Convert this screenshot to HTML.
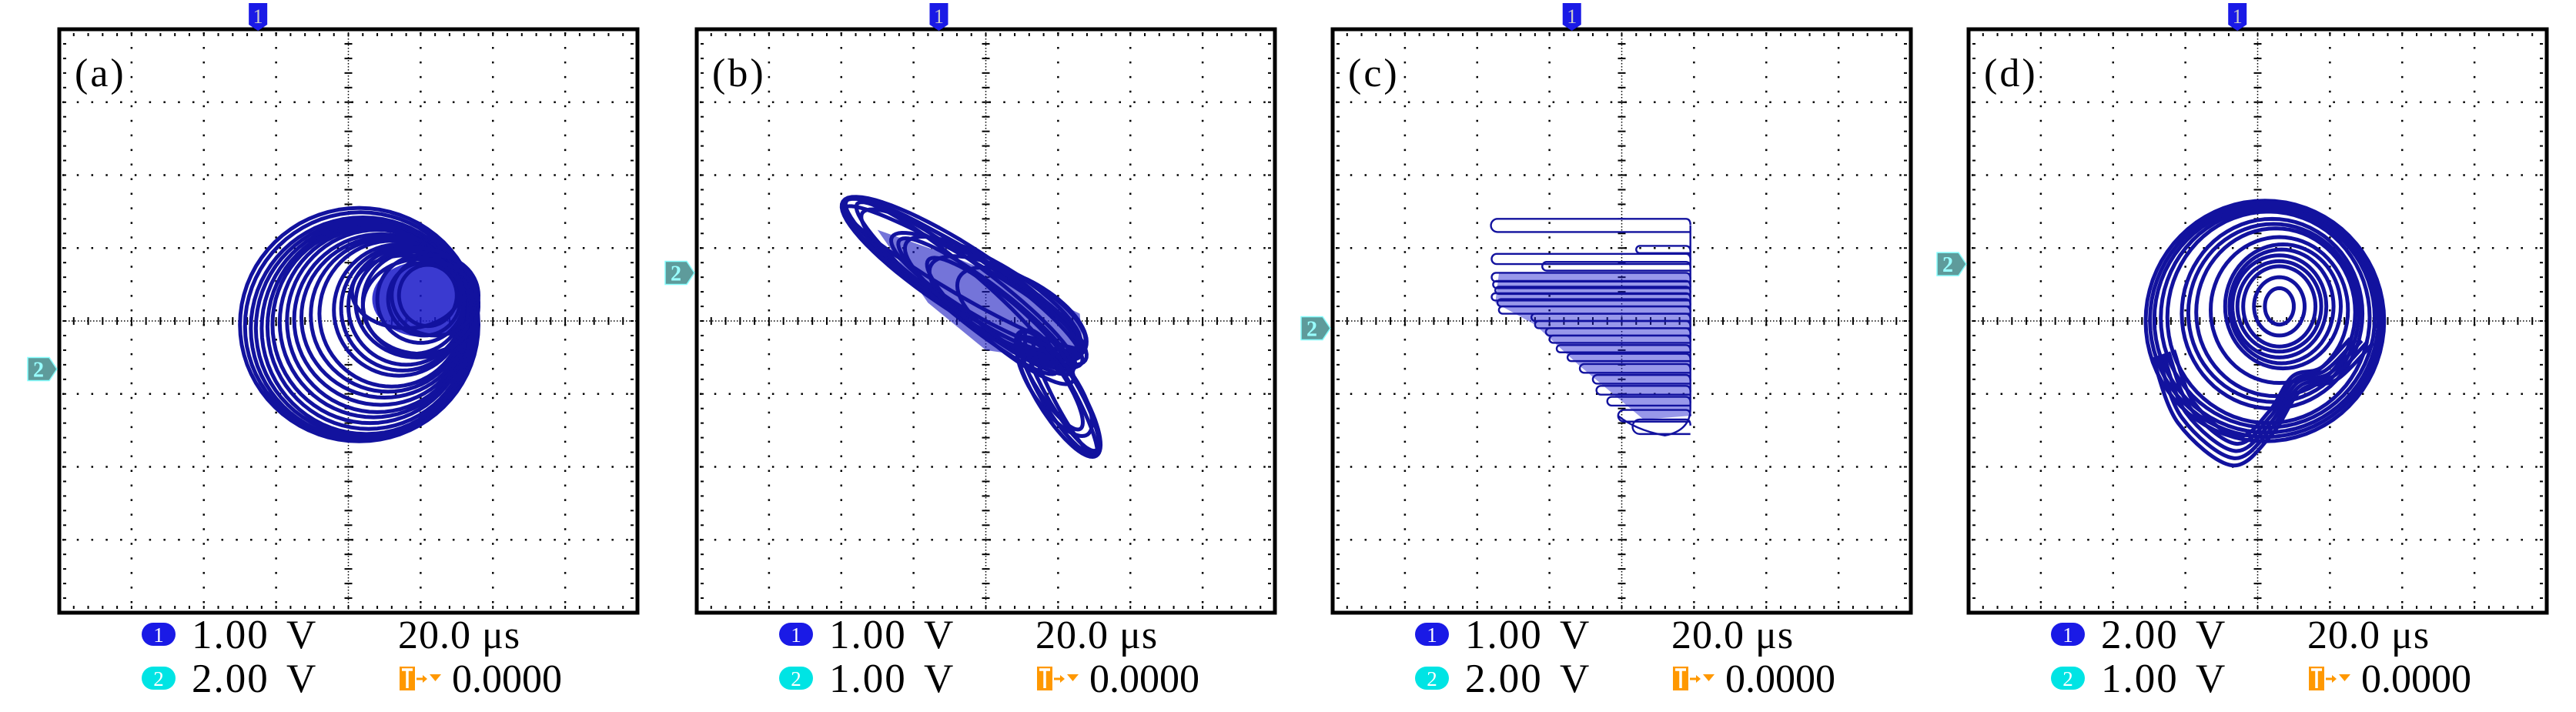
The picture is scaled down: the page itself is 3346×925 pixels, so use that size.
<!DOCTYPE html>
<html><head><meta charset="utf-8">
<style>
html,body{margin:0;padding:0;background:#fff;}
svg{display:block;}
text{font-family:"Liberation Serif",serif;}
</style></head>
<body>
<svg id="fig" width="3346" height="925" viewBox="0 0 3346 925" xmlns="http://www.w3.org/2000/svg"></svg>
<script>
// ---- data (in scope divisions, origin at screen centre) ----
const panelLabels = ["(a)", "(b)", "(c)", "(d)"];
const ch1Scale = ["1.00 V", "1.00 V", "1.00 V", "2.00 V"];
const ch2Scale = ["2.00 V", "1.00 V", "2.00 V", "1.00 V"];
const timeBase = ["20.0 μs", "20.0 μs", "20.0 μs", "20.0 μs"];
const trigLevel = ["0.0000", "0.0000", "0.0000", "0.0000"];
const ch1MarkerX = [-1.25, -0.65, -0.69, -0.28];
const ch2MarkerY = [-0.66, 0.66, -0.1, 0.78];
// panel a: loops [cx, cy, rx, ry]
const aLoops = [[0.15,-0.05,1.65,1.6],[0.17,-0.07,1.6,1.56],[0.2,-0.1,1.55,1.52],[0.22,-0.1,1.5,1.48],[0.25,-0.1,1.45,1.45],[0.28,-0.08,1.4,1.4],[0.3,-0.05,1.35,1.35],[0.35,-0.02,1.3,1.3],[0.4,0,1.25,1.25],[0.45,0.02,1.2,1.17],[0.5,0.05,1.15,1.1],[0.55,0.08,1.07,1.05],[0.6,0.1,1.0,1.0],[0.7,0.15,0.9,0.9],[0.75,0.17,0.85,0.85],[0.8,0.2,0.8,0.8],[0.9,0.25,0.7,0.7],[1.0,0.3,0.6,0.6],[1.05,0.3,0.5,0.5],[1.1,0.35,0.4,0.42],[0.8,0.4,0.75,0.5],[1.2,0.35,0.6,0.55],[0.95,0.25,0.85,0.75],[1.0,0.2,0.8,0.65]];
const aCore = [1.05,0.3,0.72,0.52];
// panel b: rotated loops [cx, cy, rx, ry, angleDeg]
const bLoops = [[-0.3,0.55,2.0,0.45,-33],[-0.32,0.52,1.98,0.4,-34],[-0.35,0.5,1.95,0.35,-36],[-0.4,0.45,1.8,0.3,-40],[-0.3,0.6,1.9,0.25,-30],[-0.2,0.5,1.8,0.38,-33],[0.0,0.4,1.5,0.35,-30],[0.1,0.35,1.4,0.42,-31],[0.3,0.2,1.2,0.45,-28],[0.5,0.1,1.0,0.45,-30],[0.2,0.0,1.3,0.3,-40],[0.0,0.2,1.5,0.3,-37],[1.0,-1.0,1.0,0.3,-58],[1.02,-0.98,0.98,0.26,-59],[1.05,-0.95,0.95,0.22,-60],[1.1,-1.05,0.9,0.15,-62],[0.95,-0.9,0.8,0.3,-55],[0.9,-0.85,0.75,0.2,-57]];
const bCore = [[-1.5,1.25],[-0.5,0.9],[0.6,0.45],[1.3,0.1],[1.35,-0.45],[0.7,-0.5],[0.0,-0.4],[-0.8,0.25]];
// panel c: horizontal loops [y, xLeft, halfHeight], right edge
const cRight = 0.95;
const cLoops = [[1.31,-1.81,0.09],[0.98,0.2,0.05],[0.85,-1.8,0.07],[0.75,-1.1,0.06],[0.6,-1.8,0.06],[0.5,-1.78,0.05],[0.42,-1.75,0.05],[0.33,-1.8,0.05],[0.25,-1.72,0.05],[0.15,-1.7,0.05],[0.05,-1.25,0.05],[-0.05,-1.2,0.05],[-0.15,-1.05,0.05],[-0.25,-1.0,0.05],[-0.38,-0.9,0.05],[-0.5,-0.75,0.05],[-0.65,-0.58,0.06],[-0.8,-0.4,0.06],[-0.95,-0.35,0.06],[-1.1,-0.2,0.06],[-1.3,-0.05,0.08],[-1.45,0.15,0.1]];
const cCore = [[-1.7,0.65],[0.95,0.65],[0.95,-1.3],[0.3,-1.35],[-0.6,-0.6],[-1.2,-0.05],[-1.75,0.25]];
// panel d: loops [cx, cy, rx, ry] and tail
const dLoops = [[0.1,0.0,1.65,1.65],[0.11,0.01,1.6,1.6],[0.12,0.02,1.55,1.55],[0.14,0.04,1.48,1.5],[0.15,0.05,1.4,1.45],[0.2,0.1,1.25,1.3],[0.22,0.11,1.18,1.22],[0.25,0.12,1.1,1.15],[0.3,0.15,0.95,1.0],[0.35,0.2,0.8,0.85],[0.33,0.2,0.72,0.78],[0.3,0.2,0.65,0.7],[0.3,0.2,0.58,0.62],[0.3,0.2,0.5,0.55],[0.3,0.2,0.35,0.4],[0.3,0.2,0.2,0.25]];
const dTail = [[-1.45,-0.5],[-1.1,-1.4],[-0.35,-1.98],[0.2,-1.55],[0.6,-0.95],[1.1,-0.8],[1.6,-0.3]];

// ---- layout ----
const PL = [77, 905, 1731, 2557], PT = 38, PW = 751, PH = 758;
const DX = PW/8, DY = PH/8;
const NS = "http://www.w3.org/2000/svg";
const svg = document.getElementById('fig');
function sx(p, v){ return PL[p] + PW/2 + v*DX; }
function sy(v){ return PT + PH/2 - v*DY; }
function mk(tag, attrs, parent){ const e = document.createElementNS(NS, tag); for (const k in attrs) e.setAttribute(k, attrs[k]); (parent||svg).appendChild(e); return e; }
function ellipsePts(p, cx, cy, rx, ry, ang){
  const a = (ang||0)*Math.PI/180, pts = [];
  for (let i=0;i<=72;i++){ const t=i/72*2*Math.PI; const x=rx*Math.cos(t), y=ry*Math.sin(t);
    pts.push(sx(p, cx + x*Math.cos(a) - y*Math.sin(a)).toFixed(1)+','+sy(cy + x*Math.sin(a) + y*Math.cos(a)).toFixed(1)); }
  return pts.join(' ');
}
function smoothPath(p, pts, k){
  const P = pts.map(q=>[sx(p,q[0]*k),sy(q[1]*k)]);
  let d = `M${P[0][0]},${P[0][1]}`;
  for (let i=0;i<P.length-1;i++){
    const p0=P[Math.max(0,i-1)], p1=P[i], p2=P[i+1], p3=P[Math.min(P.length-1,i+2)];
    d += ` C${p1[0]+(p2[0]-p0[0])/6},${p1[1]+(p2[1]-p0[1])/6} ${p2[0]-(p3[0]-p1[0])/6},${p2[1]-(p3[1]-p1[1])/6} ${p2[0]},${p2[1]}`;
  }
  return d;
}
const TRACE = "#12129e";

for (let p=0;p<4;p++){
  const g = mk('g', {});
  
  
  const grid = mk('g', {stroke:'#000', 'stroke-width':2.5, fill:'none'}, g);
  
  
  for (let i=1;i<8;i++){
    if (i===4) continue;
    mk('line',{x1:PL[p]+i*DX,y1:PT+4,x2:PL[p]+i*DX,y2:PT+PH-4,'stroke-dasharray':'2.5 '+(DY/5-2.5)},grid);
    mk('line',{x1:PL[p]+4,y1:PT+i*DY,x2:PL[p]+PW-4,y2:PT+i*DY,'stroke-dasharray':'2.5 '+(DX/5-2.5)},grid);
  }
  const cx0 = PL[p]+PW/2, cy0 = PT+PH/2;
  mk('line',{x1:cx0,y1:PT,x2:cx0,y2:PT+PH,'stroke-dasharray':'1.5 2.5','stroke-width':1.5},grid);
  mk('line',{x1:PL[p],y1:cy0,x2:PL[p]+PW,y2:cy0,'stroke-dasharray':'1.5 2.5','stroke-width':1.5},grid);
  for (let k=1;k<40;k++){
    mk('line',{x1:cx0-5,y1:PT+k*DY/5,x2:cx0+5,y2:PT+k*DY/5,'stroke-width':2},grid);
    mk('line',{x1:PL[p]+k*DX/5,y1:cy0-5,x2:PL[p]+k*DX/5,y2:cy0+5,'stroke-width':2},grid);
    mk('line',{x1:PL[p]+5,y1:PT+k*DY/5,x2:PL[p]+9,y2:PT+k*DY/5,'stroke-width':2},grid);
    mk('line',{x1:PL[p]+PW-9,y1:PT+k*DY/5,x2:PL[p]+PW-5,y2:PT+k*DY/5,'stroke-width':2},grid);
    mk('line',{x1:PL[p]+k*DX/5,y1:PT+5,x2:PL[p]+k*DX/5,y2:PT+9,'stroke-width':2},grid);
    mk('line',{x1:PL[p]+k*DX/5,y1:PT+PH-9,x2:PL[p]+k*DX/5,y2:PT+PH-5,'stroke-width':2},grid);
  }
  const tr = mk('g',{fill:'none',stroke:TRACE,'stroke-width':p===2?2.4:5,'stroke-linejoin':'round'},g);
  
  
  if (p===0){
    mk('ellipse',{cx:sx(0,aCore[0]),cy:sy(aCore[1]),rx:aCore[2]*DX,ry:aCore[3]*DY,fill:'#1818c8',stroke:'none',opacity:0.85},tr);
    aLoops.forEach(l=>{ const e=mk('polygon',{points:ellipsePts(0,l[0],l[1],l[2],l[3],0)},tr);   });
  } else if (p===1){
    mk('polygon',{points:bCore.map(q=>sx(1,q[0])+','+sy(q[1])).join(' '),fill:'#1818c0',stroke:'none',opacity:0.6},tr);
    bLoops.forEach(l=>{ const e=mk('polygon',{points:ellipsePts(1,l[0],l[1],l[2],l[3],l[4])},tr);   });
  } else if (p===2){
    mk('polygon',{points:cCore.map(q=>sx(2,q[0])+','+sy(q[1])).join(' '),fill:'#1a1ad0',stroke:'none',opacity:0.45},tr);
    cLoops.forEach(l=>{
      const y1=sy(l[0]+l[2]), y2=sy(l[0]-l[2]), xl=sx(2,l[1]), xr=sx(2,cRight), r=(y2-y1)/2;
      const e=mk('path',{d:`M${xr},${y2} L${xl+r},${y2} A${r},${r} 0 0 1 ${xl+r},${y1} L${xr-6},${y1} Q${xr},${y1} ${xr},${y1+8}`},tr);
       
    });
    mk('path',{d:`M${sx(2,cRight)},${sy(cLoops[0][0])} L${sx(2,cRight)},${sy(-1.2)} Q${sx(2,cRight)},${sy(-1.5)} ${sx(2,0.6)},${sy(-1.57)} Q${sx(2,0.2)},${sy(-1.5)} ${sx(2,-0.05)},${sy(-1.3)}`},tr);
  } else {
    dLoops.forEach(l=>{ const e=mk('polygon',{points:ellipsePts(3,l[0],l[1],l[2],l[3],0)},tr);   });
    for (let k=0;k<5;k++){
      const e=mk('path',{d:smoothPath(3,dTail,1-k*0.05)},tr);
       
    }
  }
  const fr = mk('rect',{x:PL[p],y:PT,width:PW,height:PH,fill:'none',stroke:'#000','stroke-width':5},g);
  
  
  const lb = mk('text',{x:PL[p]+20,y:PT+74,'font-size':52,'letter-spacing':3},g); lb.textContent = panelLabels[p];
  
  
  const m1x = sx(p, ch1MarkerX[p]);
  const m1 = mk('g',{},g);
  
  
  mk('path',{d:`M${m1x-12},4 h24 v28 l-12,8 l-12,-8 z`,fill:'#1a1ae6'},m1);
  const t1 = mk('text',{x:m1x,y:30,'font-size':26,'text-anchor':'middle',fill:'#ccc','font-family':'Liberation Sans, sans-serif'},m1); t1.textContent='1';
  const m2y = sy(ch2MarkerY[p]);
  const m2 = mk('g',{},g);
  
  
  mk('path',{d:`M${PL[p]-41},${m2y-15} h28 l10,15 l-10,15 h-28 z`,fill:'#5e9b9b',stroke:'#8ff',"stroke-width":1.5},m2);
  const t2 = mk('text',{x:PL[p]-27,y:m2y+10,'font-size':28,'text-anchor':'middle',fill:'#9ff','font-weight':'bold','font-family':'Liberation Sans, sans-serif'},m2); t2.textContent='2';
  const L = PL[p];
  const lg = mk('g',{},g);
  
  
  [[824,'#1a1ae6','1',ch1Scale[p]],[881,'#00e4e4','2',ch2Scale[p]]].forEach(r=>{
    mk('rect',{x:L+107,y:r[0]-15,width:44,height:30,rx:15,fill:r[1]},lg);
    const n=mk('text',{x:L+129,y:r[0]+10,'font-size':27,'text-anchor':'middle',fill:'#fff','font-family':'Liberation Sans, sans-serif'},lg); n.textContent=r[2];
    const v=mk('text',{x:L+172,y:r[0]+18,'font-size':53,'letter-spacing':2,'word-spacing':8},lg); v.textContent=r[3];
    
    
  });
  const tb = mk('text',{x:L+440,y:842,'font-size':52,'letter-spacing':1},lg); tb.textContent = timeBase[p];
  
  
  const ti = mk('g',{},lg);
  
  
  mk('rect',{x:L+442,y:866,width:20,height:31,fill:'#ff9800'},ti);
  mk('path',{d:`M${L+445},870 h14 M${L+452},870 v24`,stroke:'#fff','stroke-width':3.5},ti);
  mk('path',{d:`M${L+464},882 h10`,stroke:'#ff9800','stroke-width':3},ti);
  mk('path',{d:`M${L+472},877 l6,5 l-6,5 z M${L+481},876 h15 l-7.5,9 z`,fill:'#ff9800'},ti);
  const tv = mk('text',{x:L+510,y:899,'font-size':52},lg); tv.textContent = trigLevel[p];
  
  
}
</script>
</body></html>
